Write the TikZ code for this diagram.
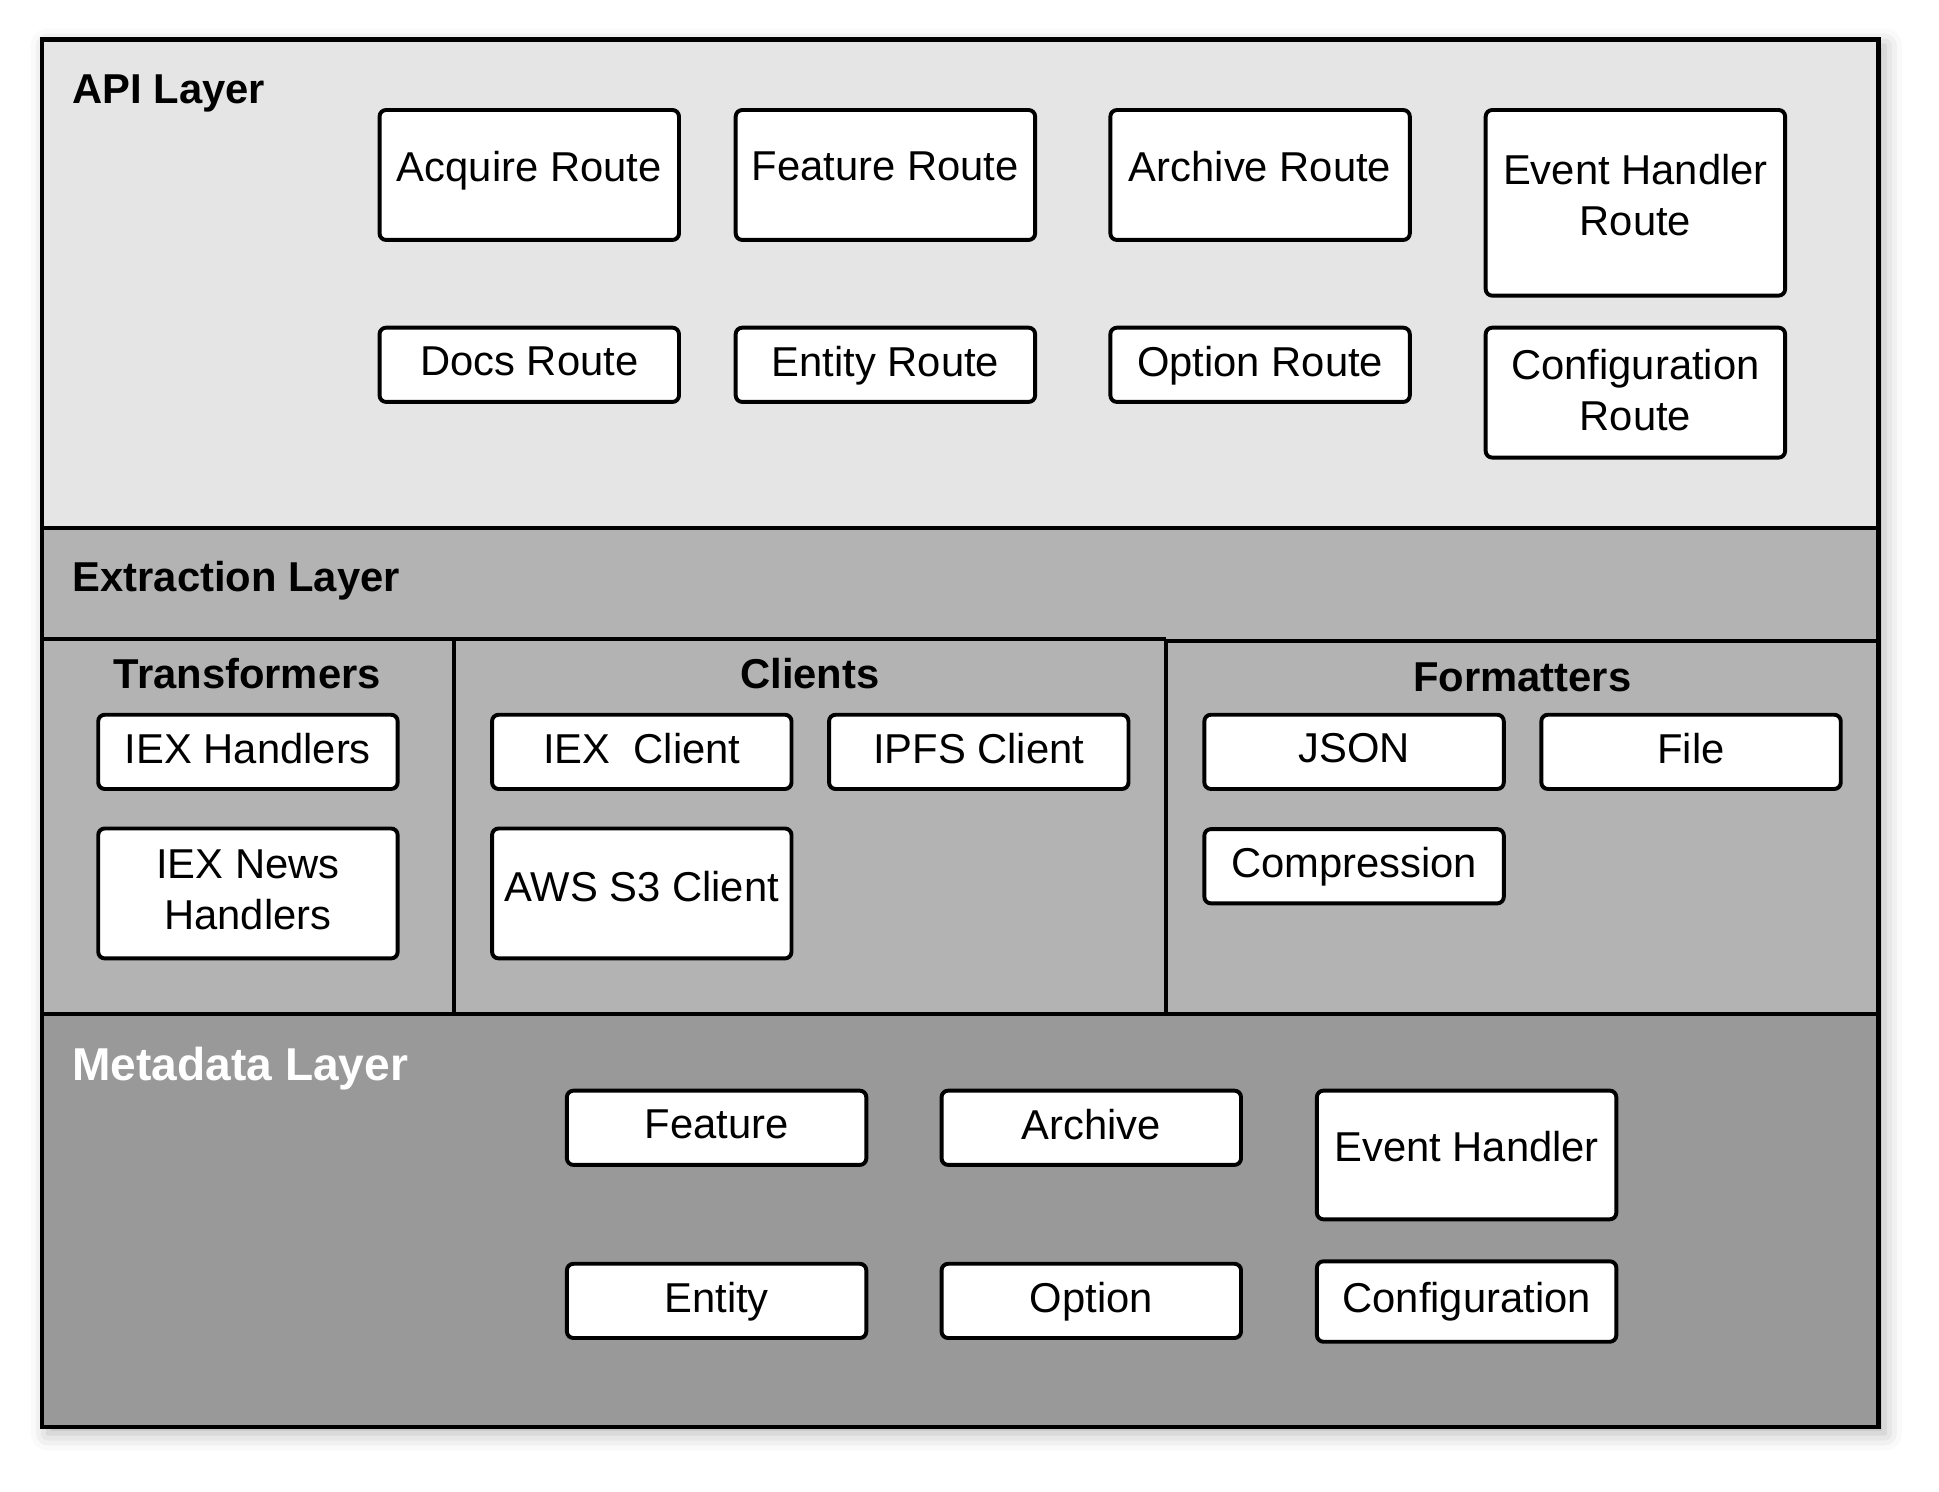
\documentclass[tikz,border=0pt]{standalone}
\usepackage{fontspec}
\setmainfont{Liberation Sans}
\usetikzlibrary{positioning,shadows.blur}
\definecolor{apigray}{HTML}{E5E5E5}
\definecolor{extgray}{HTML}{B3B3B3}
\definecolor{metagray}{HTML}{999999}

\begin{document}
\begin{tikzpicture}[
  x=0.01cm, y=-0.01cm,
  box/.style={draw, fill=white, rounded corners=1.5pt, line width=0.9pt,
    minimum width=2.42cm, minimum height=0.6cm, inner sep=1pt, align=center,
    text depth=0.06cm, font=\fontsize{9.6}{11.8}\selectfont},
  tallbox/.style={box, minimum height=1.05cm, text depth=0.14cm},
  layertitle/.style={anchor=base west, inner sep=0pt, font=\fontsize{9.6}{11.8}\selectfont\bfseries},
  grouptitle/.style={anchor=base, inner sep=0pt, font=\fontsize{9.6}{11.8}\selectfont\bfseries},
  sep/.style={line width=0.9pt}
]
\useasboundingbox (0,0) rectangle (1568,1206);

% layers
\fill[apigray, blur shadow={shadow xshift=0.05cm, shadow yshift=-0.05cm, shadow blur radius=0.14cm, shadow opacity=30}]
  (34,32) rectangle (1519,1154);
\fill[extgray] (34,427) rectangle (1519,820);
\fill[metagray] (34,820) rectangle (1519,1154);
\draw[sep] (34,427) -- (1519,427);
\draw[sep] (34,517) -- (943,517);
\draw[sep] (943,518) -- (1519,518);
\draw[sep] (367,517) -- (367,820);
\draw[sep] (943,517) -- (943,820);
\draw[sep] (34,820) -- (1519,820);
\draw[line width=1pt] (34,32) rectangle (1519,1154);

\node[layertitle] (api) at (58,84) {API Layer};
\node[layertitle] (extraction) at (58,478) {Extraction Layer};
\node[layertitle, text=white, font=\fontsize{10.6}{12.8}\selectfont\bfseries] (metadata) at (58,874) {Metadata Layer};

\node[grouptitle] (transformers) at (200,557) {Transformers};
\node[grouptitle] (clients) at (655,557) {Clients};
\node[grouptitle] (formatters) at (1231,559) {Formatters};

% API layer
\node[tallbox] (acquire) at (428,141.5) {Acquire Route};
\node[tallbox] (featureroute) at (716,141.5) {Feature Route};
\node[tallbox] (archiveroute) at (1019,141.5) {Archive Route};
\node[tallbox, minimum height=1.5cm, text depth=0.13cm] (eventroute) at (1322.5,164) {Event Handler\\Route};
\node[box] (docs) at (428,295) {Docs Route};
\node[box] (entityroute) at (716,295) {Entity Route};
\node[box] (optionroute) at (1019,295) {Option Route};
\node[tallbox, text depth=0.05cm] (configroute) at (1322.5,317.5) {Configuration\\Route};

% Extraction layer
\node[box] (iexhandlers) at (200.5,608) {IEX Handlers};
\node[tallbox, text depth=0.06cm] (iexnews) at (200.5,722.5) {IEX News\\Handlers};
\node[box] (iexclient) at (519,608) {IEX~~Client};
\node[box] (ipfs) at (791.5,608) {IPFS Client};
\node[tallbox, text depth=0.11cm] (aws) at (519,722.5) {AWS S3 Client};
\node[box] (json) at (1095,608) {JSON};
\node[box] (file) at (1367.5,608) {File};
\node[box] (compression) at (1095,700.5) {Compression};

% Metadata layer
\node[box] (feature) at (579.5,912) {Feature};
\node[box] (archive) at (882.5,912) {Archive};
\node[tallbox, minimum height=1.04cm] (eventhandler) at (1186,934) {Event Handler};
\node[box] (entity) at (579.5,1052) {Entity};
\node[box] (option) at (882.5,1052) {Option};
\node[box, minimum height=0.65cm] (config) at (1186,1052.5) {Configuration};
\end{tikzpicture}
\end{document}
